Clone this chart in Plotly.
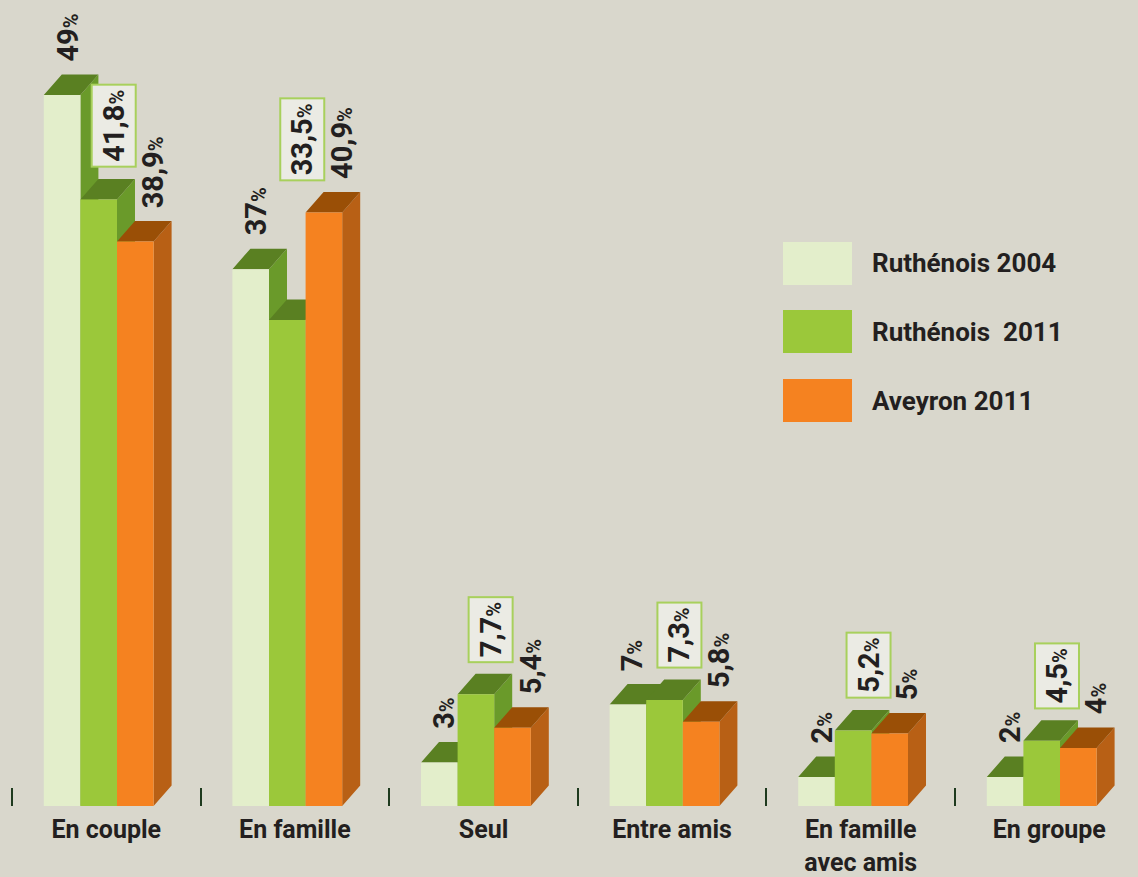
import plotly.graph_objects as go

# ---------------- data ----------------
categories = ["En couple", "En famille", "Seul", "Entre amis", "En famille<br>avec amis", "En groupe"]
series_names = ["Ruthénois 2004", "Ruthénois  2011", "Aveyron 2011"]
ruthenois_2004 = [49, 37, 3, 7, 2, 2]
ruthenois_2011 = [41.8, 33.5, 7.7, 7.3, 5.2, 4.5]
aveyron_2011 = [38.9, 40.9, 5.4, 5.8, 5, 4]
labels_2004 = ["49", "37", "3", "7", "2", "2"]
labels_r2011 = ["41,8", "33,5", "7,7", "7,3", "5,2", "4,5"]
labels_a2011 = ["38,9", "40,9", "5,4", "5,8", "5", "4"]

series_values = [ruthenois_2004, ruthenois_2011, aveyron_2011]
series_labels = [labels_2004, labels_r2011, labels_a2011]

# ---------------- style ----------------
BG = "#d9d7cc"
TEXT = "#231f20"
front_colors = ["#e3eecb", "#9bc83a", "#f58220"]
top_colors = ["#5a8022", "#5a8022", "#9a4f06"]
side_colors = ["#6a9a2a", "#6a9a2a", "#b86015"]
FONT = "Roboto"

W, H = 1138, 877
ML, MR, MT, MB = 12, 0, 0, 71
PX_PER_X = 188.6
PX_PER_Y = 14.51
plot_w = W - ML - MR
plot_h = H - MT - MB
x0 = -0.5
x_range = [x0, x0 + plot_w / PX_PER_X]
y_range = [0, plot_h / PX_PER_Y]

# geometry (pixels -> data units)
bar_w = 36.6 / PX_PER_X
depth_x = 18.0 / PX_PER_X
depth_y = 20.5 / PX_PER_Y
group_start = -62.5 / PX_PER_X
label_dx = [5 / PX_PER_X, 15 / PX_PER_X, 18 / PX_PER_X]
label_gap = 11 / PX_PER_Y

fig = go.Figure()

def poly_trace(polys, color):
    xs, ys = [], []
    for p in polys:
        for (px, py) in p:
            xs.append(px)
            ys.append(py)
        xs.append(p[0][0]); ys.append(p[0][1])
        xs.append(None); ys.append(None)
    return go.Scatter(x=xs, y=ys, mode="lines", fill="toself", fillcolor=color,
                      line=dict(width=0, color=color), hoverinfo="skip", showlegend=False)

for k, vals in enumerate(series_values):
    sides, tops, fronts = [], [], []
    for i, v in enumerate(vals):
        xl = i + group_start + k * bar_w
        xr = xl + bar_w
        fronts.append([(xl, 0), (xr, 0), (xr, v), (xl, v)])
        tops.append([(xl, v), (xr, v), (xr + depth_x, v + depth_y), (xl + depth_x, v + depth_y)])
        sides.append([(xr, 0), (xr + depth_x, depth_y), (xr + depth_x, v + depth_y), (xr, v)])
    fig.add_trace(poly_trace(sides, side_colors[k]))
    fig.add_trace(poly_trace(tops, top_colors[k]))
    fig.add_trace(poly_trace(fronts, front_colors[k]))

# value labels (rotated)
for k, vals in enumerate(series_values):
    for i, v in enumerate(vals):
        xc = i + group_start + k * bar_w + bar_w / 2 + label_dx[k]
        base = v
        if k == 1:
            base = max(v, series_values[2][i])
        txt = series_labels[k][i] + "<span style='font-size:20px'>%</span>"
        ann = dict(x=xc, y=base + depth_y + label_gap, xref="x", yref="y",
                   text=txt, textangle=-90, showarrow=False,
                   xanchor="center", yanchor="bottom",
                   font=dict(family=FONT, size=29, color=TEXT, weight=700))
        if k == 1:
            ann.update(bgcolor="#ebebe4", bordercolor="#a8d05c", borderwidth=2, borderpad=4)
        fig.add_annotation(**ann)

# custom legend
leg_y = [263.5, 331.5, 400.5]
for k, name in enumerate(series_names):
    fig.add_shape(type="rect", xref="paper", yref="paper",
                  x0=(783 - ML) / plot_w, x1=(852 - ML) / plot_w,
                  y0=(H - MB - (leg_y[k] + 21.5)) / plot_h, y1=(H - MB - (leg_y[k] - 21.5)) / plot_h,
                  fillcolor=front_colors[k], line=dict(width=0), layer="above")
    fig.add_annotation(xref="paper", yref="paper",
                       x=(870 - ML) / plot_w, y=(H - MB - leg_y[k]) / plot_h,
                       text=name.replace("  ", "\u00a0 "), showarrow=False,
                       xanchor="left", yanchor="middle",
                       font=dict(family=FONT, size=26, color=TEXT, weight=700))

fig.update_layout(
    width=W, height=H,
    margin=dict(l=ML, r=MR, t=MT, b=MB, pad=0),
    paper_bgcolor=BG, plot_bgcolor=BG,
    showlegend=False,
    xaxis=dict(range=x_range, showgrid=False, zeroline=False, showline=False, automargin=False,
               tickmode="array", tickvals=list(range(len(categories))), ticktext=categories,
               ticks="", tickfont=dict(family=FONT, size=25, color=TEXT, weight=700),
               ticklabelstandoff=6,
               minor=dict(tickmode="array", tickvals=[i - 0.5 for i in range(len(categories))],
                          ticks="inside", ticklen=18, tickwidth=1.5, tickcolor="#1e3a1e")),
    yaxis=dict(range=y_range, showgrid=False, zeroline=False, showline=False, automargin=False,
               showticklabels=False, ticks=""),
)

fig.write_html("out.html", config={"displayModeBar": False},
               post_script="document.body.style.margin='0';document.body.style.overflow='hidden';document.body.style.background='" + BG + "';")
